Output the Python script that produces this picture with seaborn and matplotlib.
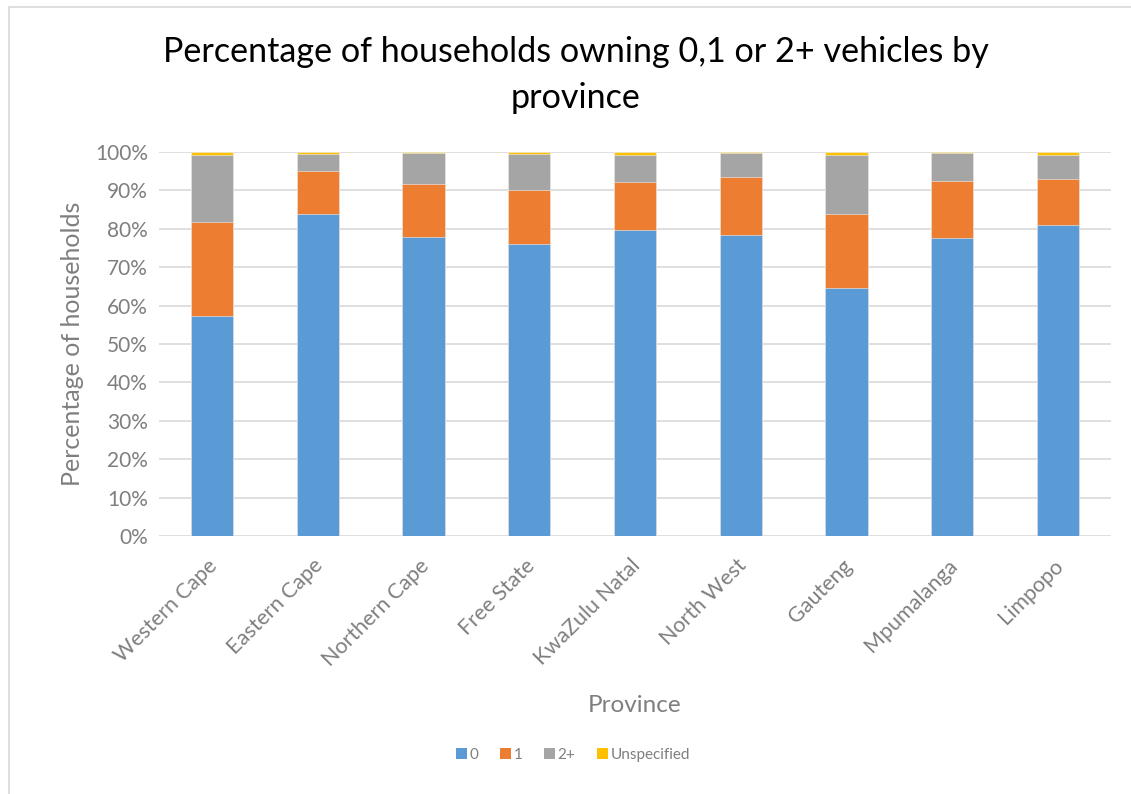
import matplotlib
matplotlib.use("Agg")
import matplotlib.pyplot as plt
from matplotlib.patches import Patch, Rectangle
from matplotlib.transforms import ScaledTranslation
import seaborn as sns
import pandas as pd
import numpy as np

# Share of households (%) by number of vehicles owned
provinces = ["Western Cape", "Eastern Cape", "Northern Cape", "Free State",
             "KwaZulu Natal", "North West", "Gauteng", "Mpumalanga", "Limpopo"]
zero_vehicles = [57.3, 83.9, 77.9, 76.0, 79.7, 78.4, 64.5, 77.7, 81.1]
one_vehicle = [24.4, 11.1, 13.8, 14.1, 12.5, 15.1, 19.4, 14.8, 11.9]
two_plus_vehicles = [17.4, 4.6, 8.0, 9.5, 6.9, 6.2, 15.4, 7.2, 6.1]
unspecified = [0.9, 0.4, 0.3, 0.4, 0.9, 0.3, 0.7, 0.3, 0.9]

series_names = ["0", "1", "2+", "Unspecified"]
series_colors = ["#5B9BD5", "#ED7D31", "#A5A5A5", "#FFC000"]

df = pd.DataFrame({
    "Province": provinces,
    "0": zero_vehicles,
    "1": one_vehicle,
    "2+": two_plus_vehicles,
    "Unspecified": unspecified,
})
cum = df[series_names].cumsum(axis=1)
cum["Province"] = df["Province"]

sns.set_style("white")
plt.rcParams["font.family"] = ["Lato", "DejaVu Sans"]

fig = plt.figure(figsize=(11.31, 7.94), dpi=100)
ax = fig.add_axes([159 / 1131, 1 - 536 / 794, (1111 - 159) / 1131, (536 - 152) / 794])

# Stack by overlaying cumulative totals, tallest first
for name, color in reversed(list(zip(series_names, series_colors))):
    sns.barplot(data=cum, x="Province", y=name, color=color, width=0.4,
                saturation=1, edgecolor="#F2F2F2", linewidth=0.4, ax=ax, zorder=3)

ax.set_ylim(0, 100)
ax.set_xlim(-0.5, len(provinces) - 0.5)
yt = np.arange(0, 101, 10)
ax.set_yticks(yt)
ax.set_yticklabels([f"{v}%" for v in yt])
ax.grid(axis="y", color="#D9D9D9", linewidth=1.2, zorder=0)
ax.grid(axis="x", visible=False)
for s in ax.spines.values():
    s.set_visible(False)
ax.tick_params(axis="y", length=0, colors="#7F7F7F", labelsize=15, pad=8)
ax.tick_params(axis="x", length=0, colors="#7F7F7F", labelsize=15.5, pad=14)
shift = ScaledTranslation(-5 / 100, 0, fig.dpi_scale_trans)
for lbl in ax.get_xticklabels():
    lbl.set_rotation(45)
    lbl.set_ha("right")
    lbl.set_rotation_mode("anchor")
    lbl.set_transform(lbl.get_transform() + shift)

ax.set_xlabel("Province", fontsize=17.5, color="#7F7F7F", labelpad=18)
ax.set_ylabel("Percentage of households", fontsize=18, color="#7F7F7F", labelpad=8)

fig.text(576 / 1131, 1 - 75 / 794,
         "Percentage of households owning 0,1 or 2+ vehicles by\nprovince",
         ha="center", va="center", fontsize=24.6, color="#000000", linespacing=1.55)

handles = [Patch(facecolor=c, edgecolor="none", label=n)
           for n, c in zip(series_names, series_colors)]
fig.legend(handles=handles, loc="center", bbox_to_anchor=(573 / 1131, 1 - 755 / 794),
           ncol=4, frameon=False, fontsize=11, handlelength=0.7, handleheight=0.7,
           handletextpad=0.2, columnspacing=1.4, labelcolor="#7F7F7F")

# Light chart-area border along the left and top
fig.patches.append(Rectangle((8.5 / 1131, -0.1), 1.2, 1.1 - 7 / 794,
                             transform=fig.transFigure, fill=False,
                             edgecolor="#D9D9D9", linewidth=1.2))

fig.savefig("out.png", dpi=100, facecolor="white")
